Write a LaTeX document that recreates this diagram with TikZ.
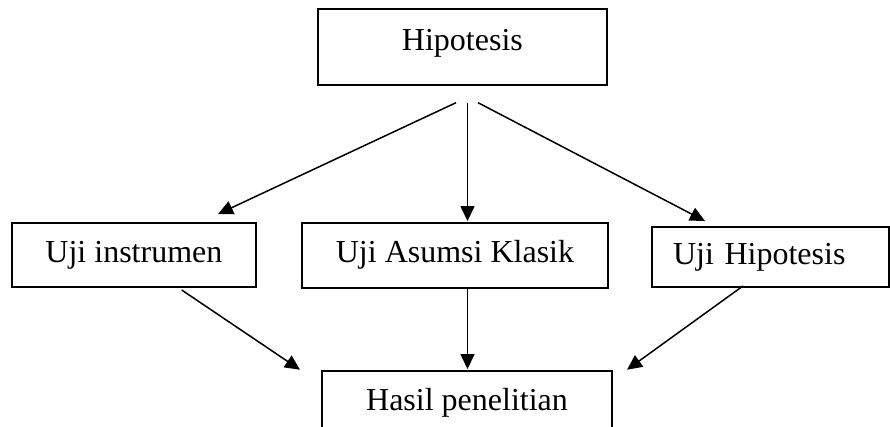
\documentclass[tikz,border=0pt]{standalone}
\usepackage{fontspec}
\setmainfont{Liberation Serif}
\usetikzlibrary{arrows.meta}
\begin{document}
\begin{tikzpicture}[x=1pt,y=-1pt,
  box/.style={draw, line width=1.9pt, inner sep=0pt,
    font=\fontsize{32}{38}\selectfont, text height=22.4pt, text depth=8pt},
  arr/.style={line width=1.5pt, -{Triangle[length=15pt,width=14pt]}}]
\useasboundingbox (0,0) rectangle (890,427);

\node[box, minimum width=289.3pt, minimum height=75.7pt, text depth=16pt] (hip) at (462.4,47.2) {Hipotesis};
\node[box, minimum width=244.3pt, minimum height=64.3pt] (ui) at (133.9,254.9) {Uji instrumen};
\node[box, minimum width=306pt, minimum height=65pt] (uak) at (455,255.5) {Uji Asumsi Klasik};
\node[box, minimum height=60pt, inner xsep=21pt, text width=195pt, align=left] (uh) at (770.5,257) {Uji Hipotesis};
\node[box, minimum width=290pt, minimum height=64pt] (hasil) at (467,403) {Hasil penelitian};

\draw[arr] ([shift={(-6.4,16.7)}]hip.south) -- ([shift={(84.1,-7.7)}]ui.north);
\draw[arr] ([shift={(5.1,16.7)}]hip.south) -- ([shift={(12.5,-1)}]uak.north);
\draw[arr] ([shift={(15.6,16.7)}]hip.south) -- ([shift={(-65.5,-5)}]uh.north);

\draw[arr] ([shift={(47.8,2)}]ui.south) -- ([shift={(-167,-0.3)}]hasil.north);
\draw[arr] ([shift={(12.5,0)}]uak.south) -- ([shift={(0.5,-1)}]hasil.north);
\draw[arr] ([shift={(-27.5,-2)}]uh.south) -- ([shift={(160,-0.3)}]hasil.north);
\end{tikzpicture}
\end{document}
